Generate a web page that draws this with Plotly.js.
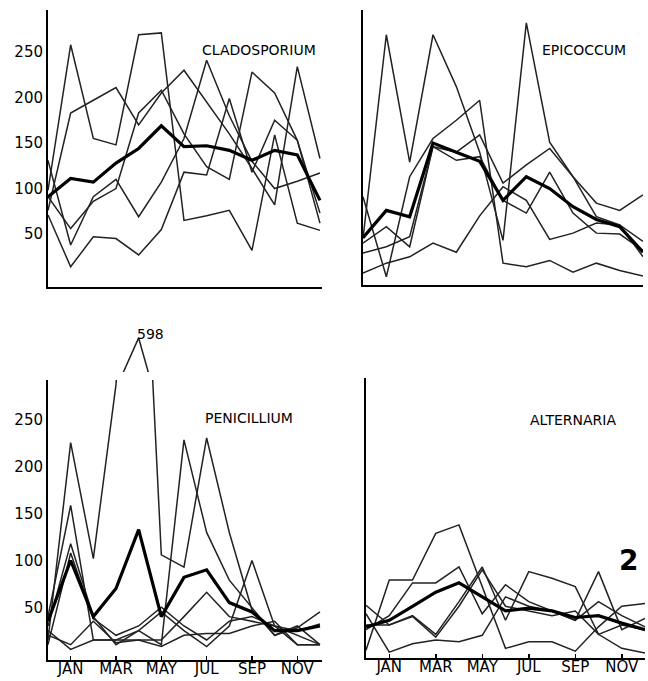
<!DOCTYPE html>
<html>
<head>
<meta charset="utf-8">
<script src="https://cdn.plot.ly/plotly-3.0.1.min.js"></script>
<style>html,body{margin:0;padding:0;background:#fff;}</style>
</head>
<body>
<div id="chart" style="width:648px;height:681px;"></div>
<script>
// Month index: 0 = previous December, 1 = JAN ... 12 = DEC
const months = [0,1,2,3,4,5,6,7,8,9,10,11,12];
const tickVals = [1,3,5,7,9,11];
const tickText = ["JAN","MAR","MAY","JUL","SEP","NOV"];
const yTickVals = [50,100,150,200,250];

// CLADOSPORIUM
const clMean = [91,111,107,128,144,169,146,147,142,131,142,137,87];
const clA = [98,258,155,148,269,271,65,70,76,32,159,62,54];
const clB = [76,183,197,211,170,205,230,195,160,122,82,234,133];
const clC = [131,38,91,110,69,107,155,241,180,130,100,108,117];
const clD = [71,14,47,45,27,55,118,115,199,118,175,153,73];
const clE = [91,56,86,100,183,208,160,124,110,228,205,153,62];

// EPICOCCUM
const epMean = [46,76,69,150,140,130,87,113,100,80,66,58,30];
const ep1 = [45,269,129,269,212,140,43,282,151,113,69,60,25];
const ep2 = [91,3,113,155,175,197,18,14,21,8,18,10,4];
const ep3 = [7,18,25,40,30,70,102,87,44,51,62,60,42];
const ep4 = [29,36,47,146,140,159,106,126,144,113,84,76,93];
const ep5 = [40,58,36,146,131,135,87,73,118,73,51,50,32];

// PENICILLIUM
const peMean = [35,100,40,70,133,40,82,90,55,45,25,25,30];
const pe1 = [15,226,102,288,598,106,93,231,130,47,20,30,10];
const pe2 = [30,118,40,10,25,10,229,130,79,50,20,28,45];
const pe3 = [40,159,15,15,25,45,25,8,30,100,30,20,10];
const pe4 = [20,10,35,12,15,15,40,66,40,35,30,10,10];
const pe5 = [25,5,15,15,15,8,20,22,22,30,35,10,10];
const pe6 = [10,108,38,20,30,50,30,15,35,40,30,25,32];

// ALTERNARIA
const alMean = [28,35,50,65,75,60,45,48,45,38,40,32,25];
const al1 = [3,78,78,128,137,70,5,12,12,2,28,50,53];
const al2 = [51,30,40,20,55,92,35,87,80,71,20,5,0];
const al3 = [25,40,75,75,92,42,73,55,45,35,55,40,28];
const al4 = [42,1,10,14,12,19,60,50,45,35,87,25,37];
const al5 = [30,30,39,17,50,89,50,45,40,45,20,30,25];

const W = 648, H = 681;
const px = v => v / W;
const py = v => 1 - v / H;

const thin = {color:"#222", width:1.5};
const bold = {color:"#000", width:3.2};

function tr(y, xa, ya, isBold){
  return {x: months, y: y, xaxis: xa, yaxis: ya, type: "scatter", mode: "lines",
          line: isBold ? bold : thin, hoverinfo: "skip", showlegend: false};
}

const data = [];
[clA, clB, clC, clD, clE].forEach(s => data.push(tr(s, "x", "y", false)));
data.push(tr(clMean, "x", "y", true));
[ep1, ep2, ep3, ep4, ep5].forEach(s => data.push(tr(s, "x2", "y2", false)));
data.push(tr(epMean, "x2", "y2", true));
[pe1, pe2, pe3, pe4, pe5, pe6].forEach(s => data.push(tr(s, "x3", "y3", false)));
data.push(tr(peMean, "x3", "y3", true));
// broken-scale inset showing the off-scale April peak
data.push(tr(pe1, "x3", "y5", false));
[al1, al2, al3, al4, al5].forEach(s => data.push(tr(s, "x4", "y4", false)));
data.push(tr(alMean, "x4", "y4", true));

const tickFont = {family: "DejaVu Sans, sans-serif", size: 15, color: "#000"};
function xax(domain, range, anchor, labels){
  return {domain: domain, range: range, anchor: anchor, showgrid: false, zeroline: false,
          showline: true, linecolor: "#000", linewidth: 2,
          tickmode: "array", tickvals: labels ? tickVals : [], ticktext: labels ? tickText : [],
          ticks: labels ? "inside" : "", ticklen: 4, tickwidth: 1.5, tickcolor: "#000",
          ticklabelstandoff: -6,
          tickfont: tickFont, fixedrange: true};
}
function yax(domain, range, anchor, labels){
  return {domain: domain, range: range, anchor: anchor, showgrid: false, zeroline: false,
          showline: true, linecolor: "#000", linewidth: 2,
          tickmode: "array", tickvals: labels ? yTickVals : [], ticks: "",
          showticklabels: labels, tickfont: tickFont, fixedrange: true};
}

const titleFont = {family: "DejaVu Sans, sans-serif", size: 14, color: "#000"};
function ann(text, x, y, font){
  return {text: text, xref: "paper", yref: "paper", x: px(x), y: py(y),
          xanchor: "left", yanchor: "middle", showarrow: false, font: font || titleFont};
}

const layout = {
  width: W, height: H,
  margin: {l: 0, r: 0, t: 0, b: 0},
  paper_bgcolor: "#fff", plot_bgcolor: "rgba(0,0,0,0)",
  showlegend: false,
  xaxis:  xax([px(48), px(322)], [0, 12.09], "y", false),
  yaxis:  yax([py(287), py(10)], [-8.2, 296.2], "x", true),
  xaxis2: xax([px(363), px(643)], [0, 12], "y2", false),
  yaxis2: yax([py(285), py(10)], [-6, 296.2], "x2", false),
  xaxis3: xax([px(48), px(322)], [0, 12.09], "y3", true),
  yaxis3: yax([py(660), py(380)], [-6.4, 293], "x3", true),
  xaxis4: xax([px(366), px(645)], [0, 12], "y4", true),
  yaxis4: yax([py(658), py(378)], [-5.3, 294], "x4", false),
  yaxis5: {domain: [py(372), py(334)], range: [390, 622], anchor: "x3", visible: false, fixedrange: true},
  annotations: [
    ann("CLADOSPORIUM", 200, 50),
    ann("EPICOCCUM", 540, 50),
    ann("PENICILLIUM", 203, 418),
    ann("ALTERNARIA", 528, 420),
    {text: "598", xref: "x3", yref: "y5", x: 4, y: 598, xanchor: "left", yanchor: "middle",
     xshift: -4, yshift: 4, showarrow: false, font: {family: "DejaVu Sans, sans-serif", size: 14, color: "#000"}},
    ann("<b>2</b>", 617, 560, {family: "DejaVu Sans, sans-serif", size: 28, color: "#000"})
  ]
};

Plotly.newPlot("chart", data, layout, {displayModeBar: false, staticPlot: true});
</script>
</body>
</html>
